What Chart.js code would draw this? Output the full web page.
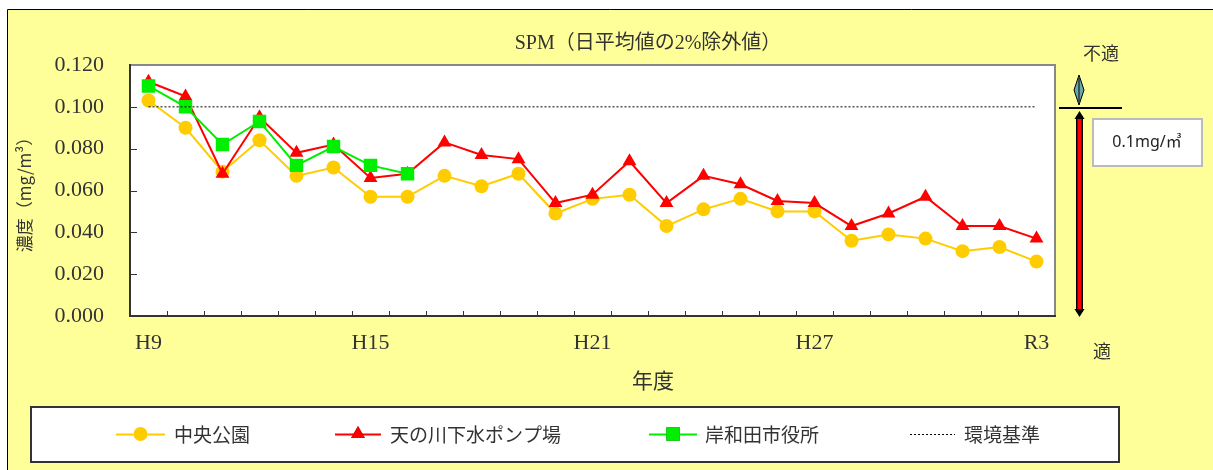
<!DOCTYPE html>
<html lang="ja">
<head>
<meta charset="utf-8">
<title>SPM（日平均値の2%除外値）</title>
<script src="https://cdn.jsdelivr.net/npm/chart.js@4.4.0/dist/chart.umd.min.js"></script>
<style>
  html, body { margin: 0; padding: 0; background: #fff; }
  #wrap { position: relative; width: 1213px; height: 470px; }
</style>
</head>
<body>
<div id="wrap"><canvas id="chart" width="1213" height="470"></canvas></div>
<script>
// 年度
const years = ["H9", "H10", "H11", "H12", "H13", "H14", "H15", "H16", "H17", "H18",
  "H19", "H20", "H21", "H22", "H23", "H24", "H25", "H26", "H27", "H28",
  "H29", "H30", "R1", "R2", "R3"];

// 中央公園
const chuoKoen = [0.103, 0.090, 0.069, 0.084, 0.067, 0.071, 0.057, 0.057, 0.067, 0.062,
  0.068, 0.049, 0.056, 0.058, 0.043, 0.051, 0.056, 0.050, 0.050, 0.036,
  0.039, 0.037, 0.031, 0.033, 0.026];

// 天の川下水ポンプ場
const amanogawa = [0.112, 0.105, 0.068, 0.095, 0.078, 0.082, 0.066, 0.068, 0.083, 0.077,
  0.075, 0.054, 0.058, 0.074, 0.054, 0.067, 0.063, 0.055, 0.054, 0.043,
  0.049, 0.057, 0.043, 0.043, 0.037];

// 岸和田市役所 (H16まで)
const shiyakusho = [0.110, 0.100, 0.082, 0.093, 0.072, 0.081, 0.072, 0.068, null, null,
  null, null, null, null, null, null, null, null, null, null,
  null, null, null, null, null];

// 環境基準 0.1mg/m3
const kijun = [{ x: "H9", y: 0.100 }, { x: "R3", y: 0.100 }];

// 縦軸
const yMin = 0;
const yMax = 0.12;
const yStep = 0.02;

const serif = '"Liberation Serif", "DejaVu Serif", "Noto Sans CJK JP", serif';
const cjk = '"Noto Sans CJK JP", sans-serif';

// 背景・枠・内向き目盛・タイトル・凡例・右側の注記
const decor = {
  id: "decor",
  beforeDraw(chart) {
    const { ctx, chartArea: a } = chart;
    ctx.save();
    ctx.fillStyle = "#ffff99";
    ctx.fillRect(7, 9, chart.width - 7, chart.height - 9);
    ctx.strokeStyle = "#000";
    ctx.lineWidth = 1;
    ctx.beginPath();
    ctx.moveTo(7.5, chart.height);
    ctx.lineTo(7.5, 9.5);
    ctx.lineTo(chart.width, 9.5);
    ctx.stroke();
    ctx.fillStyle = "#fff";
    ctx.fillRect(a.left, a.top, a.right - a.left, a.bottom - a.top);
    ctx.strokeStyle = "#888";
    ctx.lineWidth = 2;
    ctx.beginPath();
    ctx.moveTo(a.left, a.top);
    ctx.lineTo(a.right, a.top);
    ctx.lineTo(a.right, a.bottom);
    ctx.stroke();
    ctx.restore();
  },
  beforeDatasetsDraw(chart) {
    const { ctx, chartArea: a, scales: { x, y } } = chart;
    ctx.save();
    ctx.strokeStyle = "#333";
    ctx.lineWidth = 1;
    ctx.beginPath();
    for (let i = 1; i < years.length; i++) {
      const px = Math.round((x.getPixelForValue(i - 1) + x.getPixelForValue(i)) / 2) + 0.5;
      ctx.moveTo(px, a.bottom);
      ctx.lineTo(px, a.bottom - 5);
    }
    y.ticks.forEach(t => {
      if (t.value <= yMin || t.value >= yMax) return;
      const py = Math.round(y.getPixelForValue(t.value)) + 0.5;
      ctx.moveTo(a.left, py);
      ctx.lineTo(a.left + 7, py);
    });
    ctx.stroke();
    ctx.restore();
  },
  afterDraw(chart) {
    const { ctx } = chart;
    ctx.save();
    ctx.textAlign = "center";
    ctx.textBaseline = "middle";
    ctx.fillStyle = "#333";

    // タイトル
    ctx.font = "20px " + serif;
    ctx.fillText("SPM（日平均値の2%除外値）", 648, 44);

    // 横軸タイトル
    ctx.font = "21px " + cjk;
    ctx.fillText("年度", 653, 380);

    // 凡例枠
    ctx.fillStyle = "#fff";
    ctx.fillRect(31, 407, 1088, 55);
    ctx.strokeStyle = "#333";
    ctx.lineWidth = 2;
    ctx.strokeRect(31, 407, 1088, 55);

    const ly = 434;
    const items = [
      { ds: chart.data.datasets[0], x0: 116, x1: 165, tx: 174 },
      { ds: chart.data.datasets[1], x0: 335, x1: 381, tx: 390 },
      { ds: chart.data.datasets[2], x0: 649, x1: 697, tx: 705 },
      { ds: chart.data.datasets[3], x0: 910, x1: 955, tx: 964 }
    ];
    items.forEach(it => {
      const ds = it.ds;
      ctx.strokeStyle = ds.borderColor;
      ctx.lineWidth = ds.borderWidth;
      ctx.setLineDash(ds.borderDash || []);
      ctx.beginPath();
      ctx.moveTo(it.x0, ly + 0.5);
      ctx.lineTo(it.x1, ly + 0.5);
      ctx.stroke();
      ctx.setLineDash([]);
      if (ds.pointRadius > 0) {
        Chart.helpers.drawPoint(ctx, {
          pointStyle: ds.pointStyle, radius: ds.pointRadius, rotation: 0, borderWidth: 0
        }, (it.x0 + it.x1) / 2, ly);
        ctx.fillStyle = ds.backgroundColor;
        ctx.fill();
      }
      ctx.fillStyle = "#333";
      ctx.textAlign = "left";
      ctx.font = "19px " + cjk;
      ctx.fillText(ds.label, it.tx, ly + 1);
    });

    // 右側の注記
    ctx.textAlign = "center";
    ctx.fillStyle = "#333";
    ctx.font = "18px " + cjk;
    ctx.fillText("不適", 1101, 53);
    ctx.fillText("適", 1102, 351);

    // 小さい両矢印
    ctx.fillStyle = "#6aa9a9";
    ctx.strokeStyle = "#000";
    ctx.lineWidth = 1;
    ctx.beginPath();
    ctx.moveTo(1079, 75);
    ctx.lineTo(1084, 90);
    ctx.lineTo(1079, 105);
    ctx.lineTo(1074, 90);
    ctx.closePath();
    ctx.fill();
    ctx.stroke();
    ctx.beginPath();
    ctx.moveTo(1079, 78);
    ctx.lineTo(1079, 102);
    ctx.stroke();

    // 基準線
    ctx.lineWidth = 2;
    ctx.beginPath();
    ctx.moveTo(1059, 108);
    ctx.lineTo(1122, 108);
    ctx.stroke();

    // 赤い両矢印
    ctx.fillStyle = "#000";
    ctx.fillRect(1076, 116, 7, 196);
    ctx.fillStyle = "#ff0000";
    ctx.fillRect(1077.5, 116, 4, 196);
    ctx.fillStyle = "#000";
    ctx.beginPath();
    ctx.moveTo(1079.5, 111);
    ctx.lineTo(1074.5, 119);
    ctx.lineTo(1084.5, 119);
    ctx.closePath();
    ctx.fill();
    ctx.beginPath();
    ctx.moveTo(1079.5, 317);
    ctx.lineTo(1074.5, 309);
    ctx.lineTo(1084.5, 309);
    ctx.closePath();
    ctx.fill();

    // 0.1mg/m3 の枠
    ctx.fillStyle = "#fff";
    ctx.fillRect(1093, 119, 109, 47);
    ctx.strokeStyle = "#bbb";
    ctx.lineWidth = 2;
    ctx.strokeRect(1093, 119, 109, 47);
    ctx.fillStyle = "#222";
    ctx.font = '16px "Noto Sans", "Noto Sans CJK JP", sans-serif';
    ctx.fillText("0.1mg/㎥", 1147, 142);

    ctx.restore();
  }
};

new Chart(document.getElementById("chart"), {
  type: "line",
  data: {
    labels: years,
    datasets: [
      {
        label: "中央公園",
        data: chuoKoen,
        borderColor: "#ffcc00",
        backgroundColor: "#ffcc00",
        borderWidth: 2,
        pointStyle: "circle",
        pointRadius: 7,
        pointBorderWidth: 0,
        order: 3
      },
      {
        label: "天の川下水ポンプ場",
        data: amanogawa,
        borderColor: "#ff0000",
        backgroundColor: "#ff0000",
        borderWidth: 2,
        pointStyle: "triangle",
        pointRadius: 8,
        pointBorderWidth: 0,
        order: 2
      },
      {
        label: "岸和田市役所",
        data: shiyakusho,
        borderColor: "#00ee00",
        backgroundColor: "#00ee00",
        borderWidth: 2,
        pointStyle: "rect",
        pointRadius: 9.5,
        pointBorderWidth: 0,
        spanGaps: false,
        order: 1
      },
      {
        label: "環境基準",
        data: kijun,
        borderColor: "#000",
        borderWidth: 1,
        borderDash: [2, 2],
        pointRadius: 0,
        order: 0
      }
    ]
  },
  options: {
    responsive: false,
    animation: false,
    events: [],
    layout: { padding: { left: 0, top: 65, right: 158, bottom: 0 } },
    plugins: {
      legend: { display: false },
      title: { display: false },
      tooltip: { enabled: false }
    },
    elements: { line: { tension: 0 } },
    scales: {
      x: {
        type: "category",
        offset: true,
        grid: { display: false, drawTicks: false },
        border: { display: true, color: "#333", width: 2 },
        ticks: {
          autoSkip: false,
          maxRotation: 0,
          padding: 14,
          color: "#333",
          font: { family: serif, size: 22 },
          callback: (v, i) => (i % 6 === 0 ? years[i] : "")
        },
        afterFit: s => { s.height = 154; }
      },
      y: {
        min: yMin,
        max: yMax,
        grid: { display: false, drawTicks: false },
        border: { display: true, color: "#333", width: 2 },
        ticks: {
          stepSize: yStep,
          padding: 26,
          color: "#333",
          font: { family: serif, size: 22 },
          callback: v => v.toFixed(3)
        },
        title: {
          display: true,
          text: "濃度（mg/m³）",
          color: "#333",
          font: { family: cjk, size: 17 },
          padding: { top: 14, bottom: 0 }
        },
        afterFit: s => { s.width = 130; }
      }
    }
  },
  plugins: [decor]
});
</script>
</body>
</html>
